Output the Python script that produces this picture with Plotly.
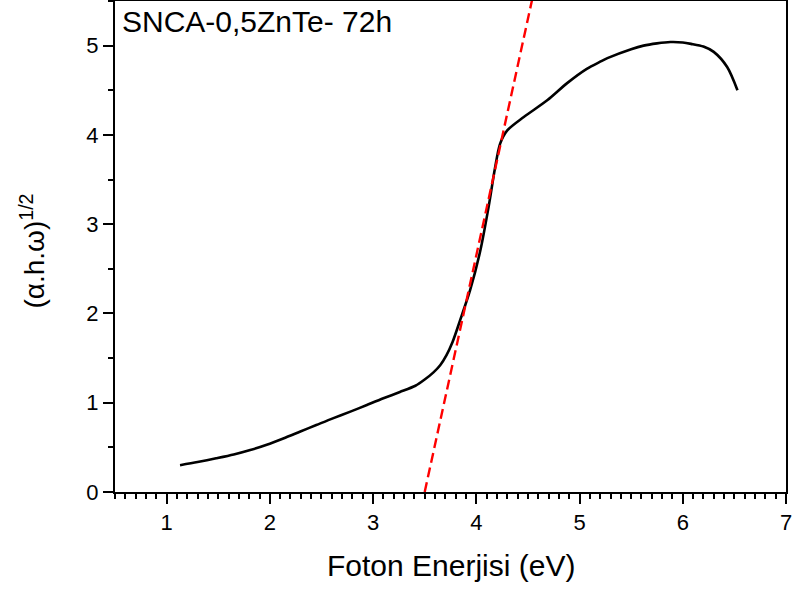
import plotly.graph_objects as go

# Measured curve: photon energy (eV) vs (alpha.h.omega)^1/2
energy = [1.13, 1.30, 1.48, 1.65, 1.81, 1.97, 2.13, 2.29, 2.45, 2.61, 2.78, 2.94, 3.10, 3.26,
          3.41, 3.50, 3.585, 3.65, 3.71, 3.77, 3.845, 3.94, 4.04, 4.12, 4.18, 4.23, 4.30, 4.46,
          4.69, 4.88, 5.07, 5.20, 5.27, 5.50, 5.62, 5.75, 5.88, 6.00, 6.08, 6.20, 6.30, 6.43, 6.53]
signal = [0.30, 0.335, 0.377, 0.42, 0.47, 0.53, 0.60, 0.675, 0.75, 0.825, 0.90, 0.975, 1.05, 1.12,
          1.19, 1.26, 1.34, 1.42, 1.53, 1.68, 1.93, 2.26, 2.71, 3.20, 3.62, 3.90, 4.05, 4.20,
          4.39, 4.58, 4.74, 4.82, 4.86, 4.96, 5.00, 5.025, 5.04, 5.035, 5.02, 4.99, 4.93, 4.76, 4.50]

# Linear fit (Tauc extrapolation) line endpoints
fit_x = [3.50, 4.60]
fit_y = [0.0, 5.83]

x_ticks = [1, 2, 3, 4, 5, 6, 7]
y_ticks = [0, 1, 2, 3, 4, 5]

sample_label = "SNCA-0,5ZnTe- 72h"
x_title = "Foton Enerjisi (eV)"
y_title = "(α.h.ω)<sup>1/2</sup>"

FONT = "Liberation Sans, Arial, sans-serif"

fig = go.Figure()
fig.add_trace(go.Scatter(x=energy, y=signal, mode="lines",
                         line=dict(color="black", width=2.6, shape="spline", smoothing=0.8),
                         showlegend=False, hoverinfo="skip"))
fig.add_trace(go.Scatter(x=fit_x, y=fit_y, mode="lines",
                         line=dict(color="#ff0000", width=2.4, dash="10px,5px"),
                         showlegend=False, hoverinfo="skip"))

fig.add_annotation(text=sample_label, xref="paper", yref="paper", x=0.008, y=0.996,
                   xanchor="left", yanchor="top", showarrow=False,
                   font=dict(family=FONT, size=30, color="black"))
fig.add_annotation(text=x_title, xref="paper", yref="paper", x=0.5, y=-0.15,
                   xanchor="center", yanchor="middle", showarrow=False,
                   font=dict(family=FONT, size=30, color="black"))
fig.add_annotation(text=y_title, xref="paper", yref="paper", x=-0.122, y=0.49,
                   xanchor="center", yanchor="middle", showarrow=False, textangle=-90,
                   font=dict(family=FONT, size=28, color="black"))

axis_common = dict(showline=True, linecolor="black", linewidth=2, mirror=True,
                   ticks="outside", ticklen=10, tickwidth=2, tickcolor="black",
                   showgrid=False, zeroline=False, automargin=False,
                   ticklabeloverflow="allow",
                   tickfont=dict(family=FONT, size=22, color="black"))

fig.update_xaxes(range=[0.5, 7], tickvals=x_ticks,
                 minor=dict(dtick=0.1, tick0=0.5, ticks="outside", ticklen=5, tickwidth=2,
                            tickcolor="black", showgrid=False),
                 **axis_common)
fig.update_yaxes(range=[0, 5.5], tickvals=y_ticks,
                 minor=dict(dtick=0.5, tick0=0, ticks="outside", ticklen=5, tickwidth=2,
                            tickcolor="black", showgrid=False),
                 **axis_common)

fig.update_layout(width=792, height=592, plot_bgcolor="white", paper_bgcolor="white",
                  margin=dict(l=115, r=6, t=1, b=100), showlegend=False)

fig.write_html("out.html", config={"displayModeBar": False},
               post_script="document.body.style.margin='0';")
